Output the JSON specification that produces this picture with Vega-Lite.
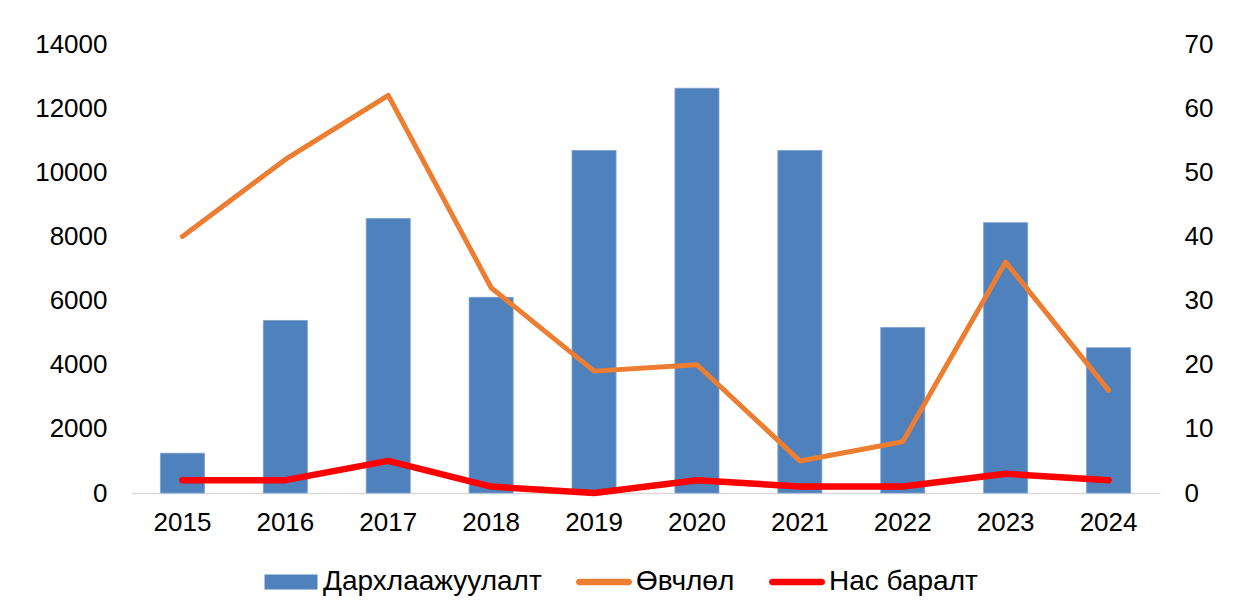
{
  "$schema": "https://vega.github.io/schema/vega-lite/v6.json",
  "autosize": {"type": "none"},
  "padding": {"left": 131, "top": 44, "right": 78, "bottom": 120},
  "width": 1029,
  "height": 449,
  "background": "white",
  "config": {
    "font": "Liberation Sans",
    "view": {"stroke": null},
    "axis": {"grid": false, "ticks": false, "labelFontSize": 26, "labelColor": "#000000", "labelFont": "Liberation Sans"},
    "legend": {"labelFont": "Liberation Sans"}
  },
  "data": {
    "values": [
      {"year": "2015", "series": "Дархлаажуулалт", "value": 1240},
      {"year": "2016", "series": "Дархлаажуулалт", "value": 5380},
      {"year": "2017", "series": "Дархлаажуулалт", "value": 8560},
      {"year": "2018", "series": "Дархлаажуулалт", "value": 6100},
      {"year": "2019", "series": "Дархлаажуулалт", "value": 10680},
      {"year": "2020", "series": "Дархлаажуулалт", "value": 12620},
      {"year": "2021", "series": "Дархлаажуулалт", "value": 10680},
      {"year": "2022", "series": "Дархлаажуулалт", "value": 5160},
      {"year": "2023", "series": "Дархлаажуулалт", "value": 8430},
      {"year": "2024", "series": "Дархлаажуулалт", "value": 4530},
      {"year": "2015", "series": "Өвчлөл", "value": 40},
      {"year": "2016", "series": "Өвчлөл", "value": 52},
      {"year": "2017", "series": "Өвчлөл", "value": 62},
      {"year": "2018", "series": "Өвчлөл", "value": 32},
      {"year": "2019", "series": "Өвчлөл", "value": 19},
      {"year": "2020", "series": "Өвчлөл", "value": 20},
      {"year": "2021", "series": "Өвчлөл", "value": 5},
      {"year": "2022", "series": "Өвчлөл", "value": 8},
      {"year": "2023", "series": "Өвчлөл", "value": 36},
      {"year": "2024", "series": "Өвчлөл", "value": 16},
      {"year": "2015", "series": "Нас баралт", "value": 2},
      {"year": "2016", "series": "Нас баралт", "value": 2},
      {"year": "2017", "series": "Нас баралт", "value": 5},
      {"year": "2018", "series": "Нас баралт", "value": 1},
      {"year": "2019", "series": "Нас баралт", "value": 0},
      {"year": "2020", "series": "Нас баралт", "value": 2},
      {"year": "2021", "series": "Нас баралт", "value": 1},
      {"year": "2022", "series": "Нас баралт", "value": 1},
      {"year": "2023", "series": "Нас баралт", "value": 3},
      {"year": "2024", "series": "Нас баралт", "value": 2}
    ]
  },
  "encoding": {
    "x": {
      "field": "year",
      "type": "ordinal",
      "scale": {"paddingInner": 0.572, "paddingOuter": 0.286},
      "axis": {"title": null, "labelAngle": 0, "domainColor": "#d9d9d9", "domainWidth": 1.5, "labelPadding": 16}
    }
  },
  "layer": [
    {
      "transform": [{"filter": "datum.series === 'Дархлаажуулалт'"}],
      "mark": {"type": "bar", "stroke": "#7aa0cf", "strokeWidth": 0.8},
      "encoding": {
        "y": {
          "field": "value",
          "type": "quantitative",
          "scale": {"domain": [0, 14000]},
          "axis": {"title": null, "values": [0, 2000, 4000, 6000, 8000, 10000, 12000, 14000], "format": "d", "domain": false, "labelPadding": 24}
        },
        "color": {
          "field": "series",
          "type": "nominal",
          "scale": {"domain": ["Дархлаажуулалт", "Өвчлөл", "Нас баралт"], "range": ["#4f81bd", "#ed7d31", "#ff0000"]},
          "legend": {
            "orient": "none",
            "legendX": 132,
            "legendY": 510,
            "direction": "horizontal",
            "title": null,
            "labelFontSize": 28,
            "labelColor": "#000000",
            "labelLimit": 0,
            "symbolSize": 3136,
            "symbolStrokeWidth": 0,
            "labelOffset": 4,
            "columnPadding": 34,
            "symbolType": {"expr": "datum.value === 'Дархлаажуулалт' ? 'M-0.946,-0.268H0.946V0.268H-0.946Z' : 'M-0.884,-0.116H0.884A0.116,0.116 0 0 1 0.884,0.116H-0.884A0.116,0.116 0 0 1 -0.884,-0.116Z'"}
          }
        }
      }
    },
    {
      "transform": [{"filter": "datum.series !== 'Дархлаажуулалт'"}],
      "mark": {"type": "line", "strokeCap": "round", "strokeJoin": "round"},
      "encoding": {
        "y": {
          "field": "value",
          "type": "quantitative",
          "scale": {"domain": [0, 70]},
          "axis": {"orient": "right", "title": null, "values": [0, 10, 20, 30, 40, 50, 60, 70], "domain": false, "labelPadding": 24}
        },
        "color": {"field": "series", "type": "nominal"},
        "strokeWidth": {"field": "series", "type": "nominal", "scale": {"domain": ["Өвчлөл", "Нас баралт"], "range": [5, 6.5]}, "legend": null}
      }
    }
  ],
  "resolve": {"scale": {"y": "independent"}}
}
